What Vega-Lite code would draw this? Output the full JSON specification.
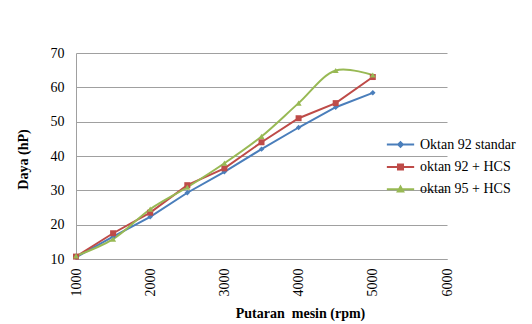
{
  "$schema": "https://vega.github.io/schema/vega-lite/v6.json",
  "width": 371,
  "height": 206,
  "autosize": "none",
  "padding": {"left": 76, "top": 53, "right": 85, "bottom": 65},
  "background": "white",
  "config": {
    "view": {"stroke": null},
    "font": "Liberation Serif"
  },
  "data": {
    "values": [
      {"rpm": 1000, "daya": 10.5, "seri": "Oktan 92 standar"},
      {"rpm": 1500, "daya": 16.5, "seri": "Oktan 92 standar"},
      {"rpm": 2000, "daya": 22.3, "seri": "Oktan 92 standar"},
      {"rpm": 2500, "daya": 29.3, "seri": "Oktan 92 standar"},
      {"rpm": 3000, "daya": 35.4, "seri": "Oktan 92 standar"},
      {"rpm": 3500, "daya": 42.0, "seri": "Oktan 92 standar"},
      {"rpm": 4000, "daya": 48.3, "seri": "Oktan 92 standar"},
      {"rpm": 4500, "daya": 54.2, "seri": "Oktan 92 standar"},
      {"rpm": 5000, "daya": 58.4, "seri": "Oktan 92 standar"},
      {"rpm": 1000, "daya": 10.7, "seri": "oktan 92 + HCS"},
      {"rpm": 1500, "daya": 17.5, "seri": "oktan 92 + HCS"},
      {"rpm": 2000, "daya": 23.5, "seri": "oktan 92 + HCS"},
      {"rpm": 2500, "daya": 31.5, "seri": "oktan 92 + HCS"},
      {"rpm": 3000, "daya": 36.4, "seri": "oktan 92 + HCS"},
      {"rpm": 3500, "daya": 44.0, "seri": "oktan 92 + HCS"},
      {"rpm": 4000, "daya": 51.0, "seri": "oktan 92 + HCS"},
      {"rpm": 4500, "daya": 55.4, "seri": "oktan 92 + HCS"},
      {"rpm": 5000, "daya": 63.0, "seri": "oktan 92 + HCS"},
      {"rpm": 1000, "daya": 10.9, "seri": "oktan 95 + HCS"},
      {"rpm": 1500, "daya": 15.8, "seri": "oktan 95 + HCS"},
      {"rpm": 2000, "daya": 24.5, "seri": "oktan 95 + HCS"},
      {"rpm": 2500, "daya": 30.9, "seri": "oktan 95 + HCS"},
      {"rpm": 3000, "daya": 37.9, "seri": "oktan 95 + HCS"},
      {"rpm": 3500, "daya": 45.7, "seri": "oktan 95 + HCS"},
      {"rpm": 4000, "daya": 55.4, "seri": "oktan 95 + HCS"},
      {"rpm": 4500, "daya": 64.9, "seri": "oktan 95 + HCS"},
      {"rpm": 5000, "daya": 63.6, "seri": "oktan 95 + HCS"}
    ]
  },
  "encoding": {
    "x": {
      "field": "rpm", "type": "quantitative",
      "scale": {"domain": [1000, 6000], "nice": false, "zero": false},
      "axis": {
        "values": [1000, 2000, 3000, 4000, 5000, 6000],
        "format": "d",
        "grid": false, "ticks": false,
        "domainColor": "#a0a0a0", "domainWidth": 1,
        "labelAngle": -90, "labelAlign": "right", "labelBaseline": "middle",
        "labelPadding": 9, "labelFont": "Liberation Serif", "labelFontSize": 14, "labelColor": "black",
        "title": "Putaran\u00a0 mesin (rpm)",
        "titleFont": "Liberation Serif", "titleFontSize": 14, "titleFontWeight": "bold", "titleColor": "black",
        "titleX": 224, "titleY": 54, "titleAlign": "center", "titleBaseline": "middle", "titleAnchor": null
      }
    },
    "y": {
      "field": "daya", "type": "quantitative",
      "scale": {"domain": [10, 70], "nice": false, "zero": false},
      "axis": {
        "values": [10, 20, 30, 40, 50, 60, 70],
        "grid": true, "gridColor": "#a0a0a0", "gridWidth": 1,
        "ticks": false,
        "domainColor": "#a0a0a0", "domainWidth": 1,
        "labelPadding": 12, "labelFont": "Liberation Serif", "labelFontSize": 14, "labelColor": "black",
        "title": "Daya (hP)",
        "titleFont": "Liberation Serif", "titleFontSize": 14, "titleFontWeight": "bold", "titleColor": "black",
        "titleX": -53, "titleY": 106, "titleAngle": -90, "titleAlign": "center", "titleBaseline": "middle", "titleAnchor": null
      }
    },
    "color": {
      "field": "seri", "type": "nominal",
      "scale": {
        "domain": ["Oktan 92 standar", "oktan 92 + HCS", "oktan 95 + HCS"],
        "range": ["#4a7ebb", "#be4b48", "#98b954"]
      },
      "legend": {
        "orient": "none", "legendX": 313, "legendY": 80, "padding": 0,
        "title": null,
        "symbolSize": 441, "symbolStrokeWidth": 2, "symbolType": "M-1.3,0H1.3",
        "rowPadding": 3.4, "labelOffset": 8,
        "labelFont": "Liberation Serif", "labelFontSize": 14, "labelColor": "black",
        "encode": {
          "symbols": {
            "update": {
              "shape": {"signal": "datum.value === 'Oktan 92 standar' ? 'M-1.3,0H1.3M-0.22,0L0,-0.22L0.22,0L0,0.22Z' : datum.value === 'oktan 92 + HCS' ? 'M-1.3,0H1.3M-0.24,-0.24H0.24V0.24H-0.24Z' : 'M-1.3,0H1.3M-0.26,0.2L0,-0.26L0.26,0.2Z'"},
              "fill": {"scale": "color", "field": "value"},
              "stroke": {"scale": "color", "field": "value"},
              "strokeWidth": {"value": 2},
              "size": {"value": 441}
            }
          }
        }
      }
    }
  },
  "layer": [
    {
      "transform": [{"filter": "datum.seri !== 'oktan 95 + HCS'"}],
      "mark": {"type": "line", "strokeWidth": 2, "interpolate": "linear"}
    },
    {
      "transform": [{"filter": "datum.seri === 'oktan 95 + HCS'"}],
      "mark": {"type": "line", "strokeWidth": 2, "interpolate": "catmull-rom"}
    },
    {
      "transform": [{"filter": "datum.seri === 'Oktan 92 standar'"}],
      "mark": {"type": "point", "filled": true, "opacity": 1, "size": 30, "shape": "diamond"}
    },
    {
      "transform": [{"filter": "datum.seri === 'oktan 92 + HCS'"}],
      "mark": {"type": "point", "filled": true, "opacity": 1, "size": 36, "shape": "square"}
    },
    {
      "transform": [{"filter": "datum.seri === 'oktan 95 + HCS'"}],
      "mark": {"type": "point", "filled": true, "opacity": 1, "size": 36, "shape": "triangle-up"}
    }
  ]
}
